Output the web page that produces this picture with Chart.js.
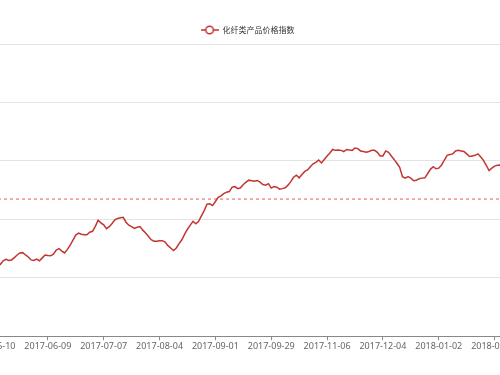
<!DOCTYPE html>
<html>
<head>
<meta charset="utf-8">
<script src="https://cdn.jsdelivr.net/npm/chart.js@4/dist/chart.umd.min.js"></script>
<style>
  html, body { margin: 0; padding: 0; background: #fff; overflow: hidden; }
  body { width: 500px; height: 375px; position: relative; }
  #wrap { position: absolute; top: 0; left: -48px; width: 600px; height: 375px; }
</style>
</head>
<body>
<div id="wrap"><canvas id="grafico"></canvas></div>
<script>
// dias de negociação por mês (categorias do eixo x)
const monthDays = [
    ['2017-05', [10, 11, 12, 15, 16, 17, 18, 19, 22, 23, 24, 25, 26, 31]],
    ['2017-06', [1, 2, 5, 6, 7, 8, 9, 12, 13, 14, 15, 16, 19, 20, 21, 22, 23, 26, 27, 28, 29, 30]],
    ['2017-07', [3, 4, 5, 6, 7, 10, 11, 12, 13, 14, 17, 18, 19, 20, 21, 24, 25, 26, 27, 28, 31]],
    ['2017-08', [1, 2, 3, 4, 7, 8, 9, 10, 11, 14, 15, 16, 17, 18, 21, 22, 23, 24, 25, 28, 29, 30, 31]],
    ['2017-09', [1, 4, 5, 6, 7, 8, 11, 12, 13, 14, 15, 18, 19, 20, 21, 22, 25, 26, 27, 28, 29]],
    ['2017-10', [10, 11, 12, 13, 16, 17, 18, 19, 20, 23, 24, 25, 26, 27, 30, 31]],
    ['2017-11', [1, 2, 3, 6, 7, 8, 9, 10, 13, 14, 15, 16, 17, 20, 21, 22, 23, 24, 27, 28, 29, 30]],
    ['2017-12', [1, 4, 5, 6, 7, 8, 11, 12, 13, 14, 15, 18, 19, 20, 21, 22, 25, 26, 27, 28, 29]],
    ['2018-01', [2, 3, 4, 5, 8, 9, 10, 11, 12, 15, 16, 17, 18, 19, 22, 23, 24, 25, 26, 29, 30, 31]],
    ['2018-02', [1, 2]]
];

// índice de preços
const indexValues = [
    86.1, 85.1, 84.1, 84.6, 85.8, 86.3, 85.9, 86.1, 86.9, 87.8,
    88.5, 88.6, 87.8, 87.1, 86.1, 85.9, 86.4, 85.8, 86.8, 87.8,
    87.6, 87.5, 88.1, 89.5, 90.0, 89.1, 88.5, 89.7, 91.2, 92.9,
    94.6, 95.3, 94.9, 94.7, 94.7, 95.6, 95.9, 97.6, 99.7, 98.8,
    98.1, 96.8, 97.5, 98.6, 99.8, 100.3, 100.5, 100.7, 99.0, 98.0,
    97.5, 96.9, 97.3, 97.5, 96.3, 95.3, 94.2, 93.0, 92.5, 92.5,
    92.7, 92.7, 92.2, 91.0, 90.2, 89.3, 90.2, 91.7, 93.0, 94.9,
    96.6, 98.0, 99.3, 98.5, 99.3, 101.2, 103.0, 105.2, 105.3, 104.7,
    106.1, 107.5, 108.0, 108.8, 109.3, 109.5, 111.0, 111.2, 110.5, 110.8,
    111.9, 112.7, 113.4, 113.2, 113.0, 113.3, 112.7, 111.9, 111.7, 112.2,
    110.7, 111.2, 111.0, 110.3, 110.5, 110.8, 111.7, 112.9, 114.4, 115.1,
    114.2, 115.3, 116.4, 116.9, 118.0, 119.0, 119.5, 120.3, 119.3, 120.5,
    121.7, 122.7, 123.9, 123.6, 123.7, 123.6, 123.2, 123.9, 123.7, 123.6,
    124.4, 124.2, 123.4, 123.2, 123.0, 123.2, 123.6, 123.6, 122.9, 121.7,
    121.7, 123.4, 122.9, 121.7, 120.5, 119.2, 117.8, 114.6, 114.1, 114.6,
    114.1, 113.2, 113.4, 113.9, 114.1, 114.2, 115.6, 117.1, 118.0, 117.3,
    117.5, 118.6, 120.3, 121.9, 122.2, 122.4, 123.4, 123.6, 123.4, 123.2,
    122.4, 121.5, 121.7, 121.9, 122.4, 121.4, 120.2, 118.5, 116.7, 117.5,
    118.2, 118.5, 118.6, 118.5
];

const seriesName = '化纤类产品价格指数';
const yTicks = [60, 80, 100, 120, 140, 160];
const labelStep = 20;

const labels = [];
monthDays.forEach(([mes, dias]) => {
    dias.forEach(d => labels.push(mes + '-' + String(d).padStart(2, '0')));
});

// linha da média (como markLine "average")
const media = indexValues.reduce((a, b) => a + b, 0) / indexValues.length;
const mediaValues = indexValues.map(() => media);

const lineColor = '#c23531';

// ícone da legenda: traço com círculo vazado
const icone = document.createElement('canvas');
icone.width = 18;
icone.height = 10;
(function() {
    const c = icone.getContext('2d');
    c.strokeStyle = lineColor;
    c.lineWidth = 1.5;
    c.beginPath();
    c.moveTo(0, 5);
    c.lineTo(18, 5);
    c.stroke();
    c.beginPath();
    c.arc(9, 5, 3.8, 0, Math.PI * 2);
    c.fillStyle = '#fff';
    c.fill();
    c.stroke();
})();

new Chart(document.getElementById('grafico'), {
    type: 'line',
    data: {
        labels: labels,
        datasets: [{
            label: seriesName,
            data: indexValues,
            borderColor: lineColor,
            backgroundColor: lineColor,
            borderWidth: 1.5,
            pointRadius: 0,
            tension: 0
        }, {
            label: 'media',
            data: mediaValues,
            borderColor: '#dd5a56',
            borderWidth: 1,
            borderDash: [3, 3],
            pointRadius: 0
        }]
    },
    options: {
        responsive: true,
        maintainAspectRatio: false,
        animation: false,
        layout: {
            padding: { left: 40, right: 49, top: 23, bottom: 22 }
        },
        scales: {
            x: {
                offset: false,
                border: { display: true, color: '#888' },
                grid: {
                    drawOnChartArea: false,
                    drawTicks: true,
                    tickLength: 4,
                    tickColor: ctx => (ctx.index % labelStep === 0 ? '#888' : 'rgba(0,0,0,0)')
                },
                ticks: {
                    autoSkip: false,
                    maxRotation: 0,
                    padding: 1,
                    color: '#666',
                    font: { family: 'Noto Sans', size: 9 },
                    callback: function(value, index) {
                        return index % labelStep === 0 ? labels[index] : '';
                    }
                }
            },
            y: {
                min: yTicks[0],
                max: yTicks[yTicks.length - 1],
                border: { display: false },
                grid: { color: '#e3e3e3', drawTicks: false },
                ticks: { display: false, stepSize: 20 }
            }
        },
        plugins: {
            legend: {
                position: 'top',
                labels: {
                    usePointStyle: true,
                    pointStyle: icone,
                    pointStyleWidth: 18,
                    color: '#333',
                    font: { family: 'Noto Sans CJK SC', size: 8 },
                    padding: 3,
                    filter: item => item.datasetIndex === 0
                }
            },
            tooltip: { enabled: false }
        }
    }
});
</script>
</body>
</html>
